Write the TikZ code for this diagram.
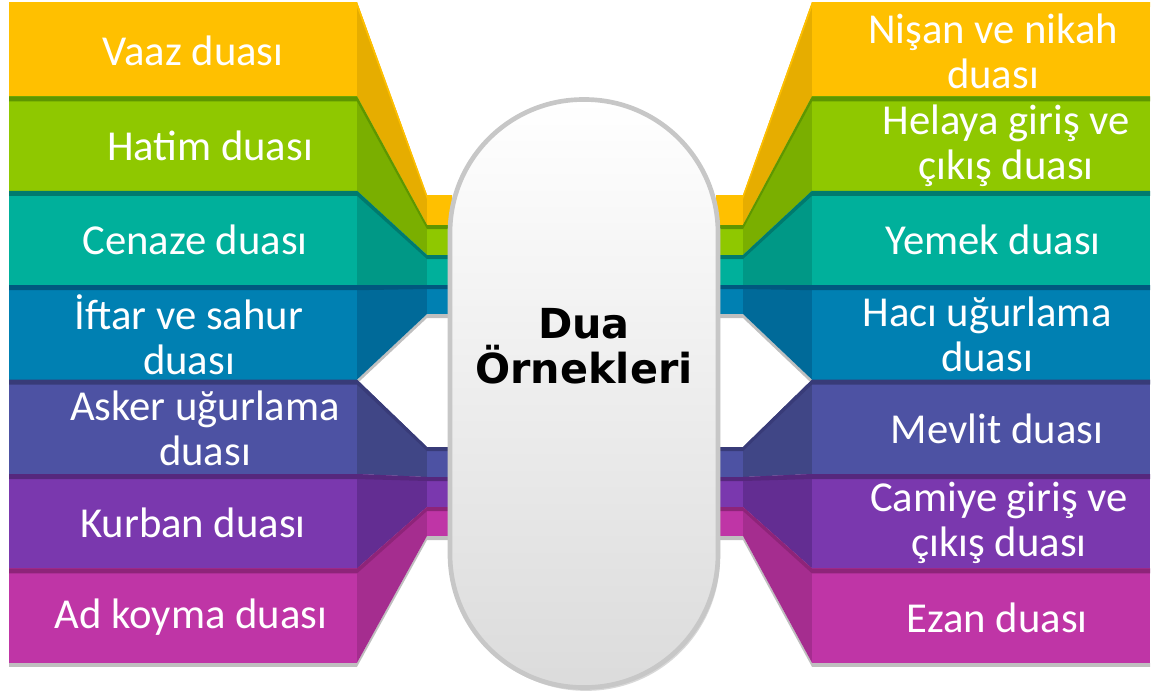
\documentclass[tikz,border=0pt]{standalone}
\usepackage{fontspec}
\newfontfamily\cardfont{Carlito}
\newfontfamily\headfont{DejaVu Sans}
\usetikzlibrary{shadows}

\definecolor{yel}{HTML}{FFC000}\definecolor{yeldk}{HTML}{E6AD00}\definecolor{yelln}{HTML}{FFC000}
\definecolor{grn}{HTML}{8FC800}\definecolor{grndk}{HTML}{7AAF00}\definecolor{grnln}{HTML}{5E9600}
\definecolor{tea}{HTML}{00B09B}\definecolor{teadk}{HTML}{009886}\definecolor{tealn}{HTML}{007A6E}
\definecolor{blu}{HTML}{0080B2}\definecolor{bludk}{HTML}{006A99}\definecolor{bluln}{HTML}{00587F}
\definecolor{ind}{HTML}{4D52A3}\definecolor{inddk}{HTML}{404686}\definecolor{indln}{HTML}{383B78}
\definecolor{pur}{HTML}{7A38AE}\definecolor{purdk}{HTML}{632D92}\definecolor{purln}{HTML}{56277D}
\definecolor{pnk}{HTML}{BF35A6}\definecolor{pnkdk}{HTML}{A52D8F}\definecolor{pnkln}{HTML}{8E2479}

\begin{document}
\begin{tikzpicture}[x=0.75pt,y=-0.75pt,
	card/.style={minimum height=70.8pt,inner sep=0pt,outer sep=0pt,anchor=north west},
	cardtext/.style={text=white,font=\cardfont\fontsize{32}{33.75}\selectfont,align=center},
	pill/.style={draw=black!22,line width=3.5pt,rounded corners=100pt,minimum width=201pt,
		minimum height=441pt,top color=white,bottom color=black!14,
		drop shadow={shadow xshift=1.5pt,shadow yshift=-2.5pt,fill=black!30}},
	head/.style={font=\headfont\bfseries\fontsize{31}{33.75}\selectfont,align=center}]
	\useasboundingbox (0,0) rectangle (1153,694);
	% \fill [red!20] (0,0) rectangle (1153,694);
	% grey shade under the ribbons
	\foreach \i/\a/\b in {4/285/314,7/507/536}{
		\pgfmathsetmacro\yb{2+94.4*\i}
		\fill [black!25] (9,\yb) -- (357,\yb) -- (427,\b) -- (452,\b) -- (452,\b+4) -- (427,\b+4) -- (357,\yb+4) -- (9,\yb+4) -- cycle;
		\fill [black!25] (1150,\yb) -- (812,\yb) -- (743,\b) -- (716,\b) -- (716,\b+4) -- (743,\b+4) -- (812,\yb+4) -- (1150,\yb+4) -- cycle;
	}
	\foreach \i/\clr/\a/\b/\ltxt/\lx/\rtxt/\rx in {
		1/yel/195/225/{Vaaz duası}/10/{Nişan ve nikah\\duası}/12,
		2/grn/225/255/{Hatim duası}/27/{Helaya giriş ve\\çıkış duası}/25,
		3/tea/255/285/{Cenaze duası}/12/{Yemek duası}/12,
		4/blu/285/314/{İftar ve sahur\\duası}/6/{Hacı uğurlama\\duası}/6,
		5/ind/447/477/{Asker uğurlama\\duası}/22/{Mevlit duası}/16,
		6/pur/477/507/{Kurban duası}/10/{Camiye giriş ve\\çıkış duası}/18,
		7/pnk/507/536/{Ad koyma duası}/8/{Ezan duası}/16}{
		\pgfmathsetmacro\yt{2+94.4*(\i-1)}
		\pgfmathsetmacro\yb{\yt+94.4}
		% left side
		\fill [\clr dk] (357,\yt) -- (427,\a) -- (427,\b) -- (357,\yb) -- cycle;
		\fill [\clr] (427,\a) rectangle (452,\b);
		\node [card,fill=\clr,minimum width=261pt] (l\i) at (9,\yt) {};
		\fill [\clr ln] (9,\yt) -- (357,\yt) -- (427,\a) -- (452,\a) -- (452,\a+4) -- (427,\a+4) -- (357,\yt+5) -- (9,\yt+5) -- cycle;
		\node [cardtext] (lt\i) at ([xshift=\lx*0.75pt,yshift=-1.5pt]l\i.center) {\ltxt};
		% right side
		\fill [\clr dk] (812,\yt) -- (743,\a) -- (743,\b) -- (812,\yb) -- cycle;
		\fill [\clr] (716,\a) rectangle (743,\b);
		\node [card,fill=\clr,minimum width=253.5pt] (r\i) at (812,\yt) {};
		\fill [\clr ln] (1150,\yt) -- (812,\yt) -- (743,\a) -- (716,\a) -- (716,\a+4) -- (743,\a+4) -- (812,\yt+5) -- (1150,\yt+5) -- cycle;
		\node [cardtext] (rt\i) at ([xshift=\rx*0.75pt,yshift=-1.5pt]r\i.center) {\rtxt};
	}
	\node [pill] (core) at (584,393.5) {};
	\node [head] (title) at (584,346) {Dua\\Örnekleri};
\end{tikzpicture}
\end{document}
